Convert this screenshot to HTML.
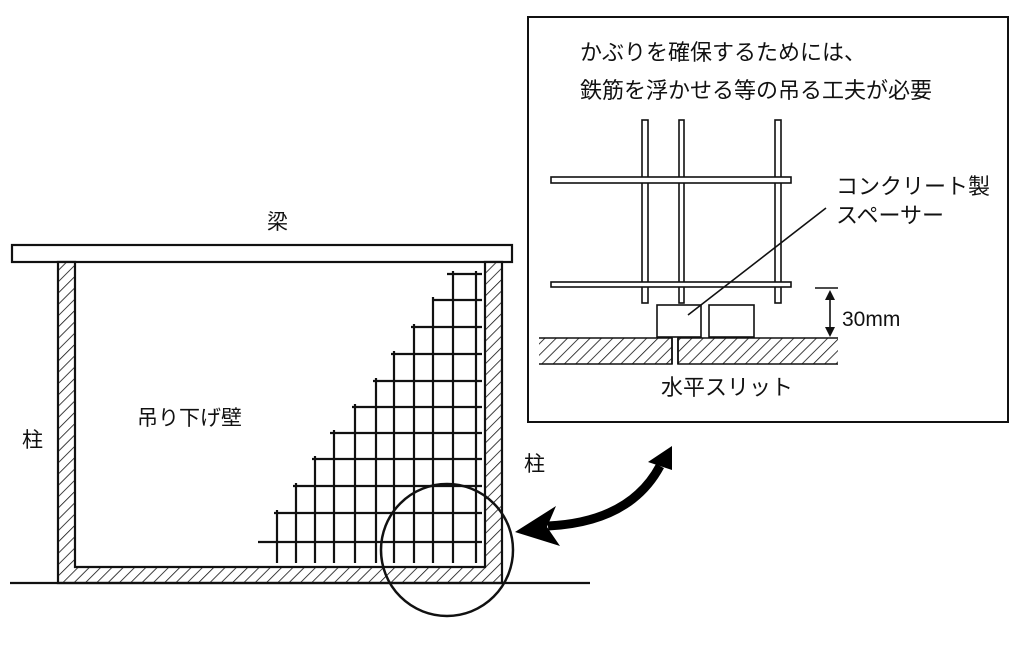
<!DOCTYPE html>
<html><head><meta charset="utf-8"><style>
html,body{margin:0;padding:0;background:#fff}
svg{display:block}
text{font-family:"Liberation Sans","Noto Sans CJK JP",sans-serif;fill:#111}
</style></head><body>
<svg width="1024" height="645" viewBox="0 0 1024 645" xmlns="http://www.w3.org/2000/svg">
<defs>
<pattern id="h" patternUnits="userSpaceOnUse" width="8" height="8" patternTransform="rotate(45)">
<rect width="8" height="8" fill="#fff"/><line x1="0" y1="0" x2="0" y2="8" stroke="#111" stroke-width="1.6"/>
</pattern>
</defs>
<g stroke="#111" stroke-width="2.2" fill="none">
<rect x="12" y="245" width="500" height="17" fill="#fff"/>
<path d="M58 262 H75 V567 H485 V262 H502 V583 H58 Z" fill="url(#h)"/>
<line x1="10" y1="583" x2="590" y2="583"/>
</g>
<g stroke="#111" stroke-width="2.2">
<line x1="476" y1="271" x2="476" y2="563"/>
<line x1="453" y1="271" x2="453" y2="563"/>
<line x1="433" y1="297" x2="433" y2="563"/>
<line x1="414" y1="324" x2="414" y2="563"/>
<line x1="394" y1="351" x2="394" y2="563"/>
<line x1="376" y1="378" x2="376" y2="563"/>
<line x1="355" y1="404" x2="355" y2="563"/>
<line x1="334" y1="430" x2="334" y2="563"/>
<line x1="315" y1="456" x2="315" y2="563"/>
<line x1="296" y1="483" x2="296" y2="563"/>
<line x1="277" y1="510" x2="277" y2="563"/>
<line x1="447" y1="274" x2="482" y2="274"/>
<line x1="432" y1="300" x2="482" y2="300"/>
<line x1="411" y1="327" x2="482" y2="327"/>
<line x1="391" y1="354" x2="482" y2="354"/>
<line x1="373" y1="381" x2="482" y2="381"/>
<line x1="352" y1="407" x2="482" y2="407"/>
<line x1="330" y1="433" x2="482" y2="433"/>
<line x1="312" y1="459" x2="482" y2="459"/>
<line x1="293" y1="486" x2="482" y2="486"/>
<line x1="274" y1="513" x2="482" y2="513"/>
<line x1="258" y1="542" x2="482" y2="542"/>
</g>
<circle cx="447" cy="550" r="66" stroke="#111" stroke-width="2.5" fill="none"/>
<text x="267" y="229" font-size="21">梁</text>
<text x="22" y="447" font-size="21">柱</text>
<text x="524" y="471" font-size="21">柱</text>
<text x="137" y="425" font-size="21">吊り下げ壁</text>
<path d="M660 466 Q630 522 548 526" stroke="#000" stroke-width="9" fill="none"/>
<polygon points="672,446 648,462 672,470" fill="#000"/>
<polygon points="515,532 556,506 547,527 560,546" fill="#000"/>
<rect x="528" y="17" width="480" height="405" fill="#fff" stroke="#111" stroke-width="2"/>
<text x="580" y="60" font-size="22">かぶりを確保するためには、</text>
<text x="580" y="98" font-size="22">鉄筋を浮かせる等の吊る工夫が必要</text>
<g stroke="#111" stroke-width="1.6" fill="#fff">
<rect x="642" y="120" width="6" height="183"/>
<rect x="679" y="120" width="5" height="183"/>
<rect x="775" y="120" width="6" height="183"/>
<rect x="551" y="177" width="240" height="6"/>
<rect x="551" y="282" width="240" height="5"/>
<rect x="657" y="305" width="44" height="32"/>
<rect x="709" y="305" width="45" height="32"/>
<path d="M539 338 H672 V364 H539" fill="url(#h)"/>
<path d="M838 338 H678 V364 H838" fill="url(#h)"/>
<line x1="672" y1="338" x2="672" y2="364"/>
<line x1="678" y1="338" x2="678" y2="364"/>
<line x1="815" y1="288" x2="838" y2="288"/>
<line x1="830" y1="294" x2="830" y2="330"/>
<line x1="688" y1="315" x2="826" y2="208"/>
</g>
<polygon points="830,290 825,300 835,300" fill="#111"/>
<polygon points="830,337 825,327 835,327" fill="#111"/>
<text x="836" y="194" font-size="22">コンクリート製</text>
<text x="836" y="223" font-size="22">スペーサー</text>
<text x="842" y="326" font-size="21">30mm</text>
<text x="661" y="395" font-size="22">水平スリット</text>
</svg>
</body></html>
